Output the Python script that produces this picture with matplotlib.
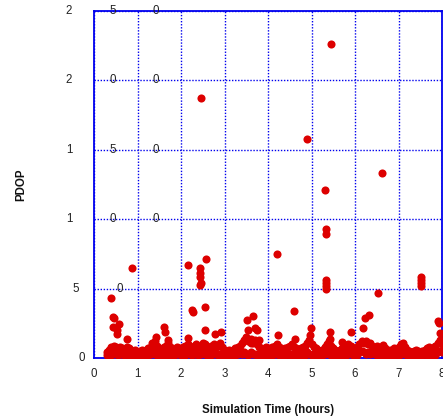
import matplotlib
matplotlib.use("Agg")
import matplotlib.pyplot as plt
from matplotlib.transforms import blended_transform_factory

# ---- data ----
# dense baseline band: time (hours) and PDOP
base_t = [0.30, 0.35, 0.40, 0.45, 0.50, 0.55, 0.60, 0.65, 0.70, 0.75,
          0.80, 0.85, 0.90, 0.95, 1.00, 1.05, 1.10, 1.15, 1.20, 1.25,
          1.30, 1.35, 1.40, 1.45, 1.50, 1.55, 1.60, 1.65, 1.70, 1.75,
          1.80, 1.85, 1.90, 1.95, 2.00, 2.05, 2.10, 2.15, 2.20, 2.25,
          2.30, 2.35, 2.40, 2.45, 2.50, 2.55, 2.60, 2.65, 2.70, 2.75,
          2.80, 2.85, 2.90, 2.95, 3.00, 3.05, 3.10, 3.15, 3.20, 3.25,
          3.30, 3.35, 3.40, 3.45, 3.50, 3.55, 3.60, 3.65, 3.70, 3.75,
          3.80, 3.85, 3.90, 3.95, 4.00, 4.05, 4.10, 4.15, 4.20, 4.25,
          4.30, 4.35, 4.40, 4.45, 4.50, 4.55, 4.60, 4.65, 4.70, 4.75,
          4.80, 4.85, 4.90, 4.95, 5.00, 5.05, 5.10, 5.15, 5.20, 5.25,
          5.30, 5.35, 5.40, 5.45, 5.50, 5.55, 5.60, 5.65, 5.70, 5.75,
          5.80, 5.85, 5.90, 5.95, 6.00, 6.05, 6.10, 6.15, 6.20, 6.25,
          6.30, 6.35, 6.40, 6.45, 6.50, 6.55, 6.60, 6.65, 6.70, 6.75,
          6.80, 6.85, 6.90, 6.95, 7.00, 7.05, 7.10, 7.15, 7.20, 7.25,
          7.30, 7.35, 7.40, 7.45, 7.50, 7.55, 7.60, 7.65, 7.70, 7.75,
          7.80, 7.85, 7.90, 7.95, 8.00]
base_upper = [4, 6, 8, 9, 8, 7, 8, 7, 6, 8,
              7, 6, 5, 6, 4, 5, 6, 5, 6, 7,
              8, 10, 12, 9, 7, 6, 8, 9, 11, 8,
              7, 6, 8, 7, 6, 8, 9, 10, 8, 7,
              9, 10, 8, 9, 11, 10, 8, 7, 9, 10,
              8, 9, 11, 8, 6, 5, 6, 5, 6, 7,
              8, 9, 11, 13, 15, 12, 14, 11, 13, 10,
              8, 7, 6, 8, 7, 6, 8, 9, 10, 8,
              7, 6, 7, 8, 9, 10, 8, 7, 6, 7,
              8, 9, 11, 13, 10, 8, 7, 6, 5, 6,
              8, 10, 12, 9, 7, 6, 5, 6, 7, 6,
              8, 10, 9, 7, 6, 8, 10, 12, 11, 12,
              10, 11, 9, 8, 9, 7, 6, 8, 7, 5,
              6, 5, 7, 6, 8, 10, 11, 8, 6, 5,
              4, 5, 6, 5, 4, 5, 6, 7, 8, 6,
              7, 9, 11, 13, 10]
base_lower = [2, 3, 2, 4, 3, 2, 3, 4, 2, 3,
              2, 3, 1, 2, 2, 3, 1, 2, 3, 2,
              3, 4, 3, 2, 3, 2, 1, 3, 4, 2,
              3, 2, 3, 4, 2, 3, 2, 4, 3, 2,
              4, 3, 2, 3, 4, 3, 2, 3, 2, 4,
              3, 2, 3, 2, 2, 1, 2, 2, 3, 2,
              3, 4, 3, 4, 3, 2, 4, 3, 3, 2,
              3, 2, 2, 3, 2, 1, 2, 3, 4, 2,
              3, 2, 2, 3, 2, 3, 2, 3, 2, 2,
              3, 2, 4, 3, 2, 3, 2, 2, 1, 2,
              3, 4, 3, 2, 3, 2, 2, 1, 2, 3,
              2, 3, 4, 2, 3, 2, 4, 5, 4, 3,
              4, 3, 4, 3, 2, 3, 2, 3, 2, 2,
              1, 2, 2, 3, 2, 3, 4, 3, 2, 2,
              1, 2, 2, 1, 2, 2, 3, 2, 3, 2,
              3, 2, 4, 5, 4]

# isolated higher points
spike_t = [5.44, 2.46, 4.90, 6.61, 5.30, 5.34, 5.34,
           4.21, 2.17, 2.57, 2.44, 2.43, 2.44, 2.45, 2.44, 0.87,
           5.33, 5.33, 5.34, 5.34, 7.52, 7.52, 7.52, 7.52,
           6.52, 6.33, 6.23, 6.19, 5.90, 7.92, 7.91, 7.95,
           4.60, 4.24, 4.99, 5.43, 5.43, 4.62, 4.97,
           2.26, 2.28, 2.55, 3.51, 3.66, 2.55, 2.78, 2.16, 3.74, 3.54, 3.70, 3.62, 3.80, 2.93,
           0.39, 0.44, 0.45, 0.57, 0.43, 0.52, 0.54, 0.77,
           1.62, 1.64, 1.43, 1.33, 1.71, 5.69, 6.64]
spike_v = [226, 187, 158, 133, 121, 93, 89,
           75, 67, 71, 65, 61, 58, 54, 52.5, 64.6,
           56, 54, 52, 50, 58, 56, 54, 52,
           47, 31, 28.6, 21.4, 18.5, 25.4, 27, 17.8,
           34, 16.5, 21.8, 19, 14, 14, 16.6,
           34.6, 33, 36.5, 27.4, 30.3, 20, 17.3, 14.4, 20, 20, 21.6, 11, 13, 18.5,
           43, 29.8, 29, 24.5, 22, 20, 17, 13.5,
           22, 19, 15.4, 11, 13, 11.8, 9.4]

xticks = [0, 1, 2, 3, 4, 5, 6, 7, 8]
yticks = [0, 50, 100, 150, 200, 250]
xlabel = "Simulation Time (hours)"
ylabel = "PDOP"

# ---- figure ----
W, H = 443, 417
fig = plt.figure(figsize=(W / 100, H / 100), dpi=100)
ax = fig.add_axes([94 / W, 1 - 358 / H, 348 / W, 347 / H])

red = "#dd0000"
ms = 34
ax.scatter(base_t, base_lower, s=ms, color=red, linewidths=0, zorder=3)
ax.scatter(base_t, base_upper, s=ms, color=red, linewidths=0, zorder=3)
ax.scatter(spike_t, spike_v, s=ms, color=red, linewidths=0, zorder=3)

ax.set_xlim(0, 8)
ax.set_ylim(0, 250)
ax.set_xticks(xticks)
ax.set_yticks(yticks)
ax.grid(True, color="#0000ee", linestyle=(0, (1, 1.2)), linewidth=1.0, zorder=1)
ax.set_axisbelow(True)
for sp in ax.spines.values():
    sp.set_color("#0000ee")
    sp.set_linewidth(1.3)

font = "Liberation Sans"
ax.tick_params(axis="both", length=0)
ax.tick_params(axis="x", pad=7, labelsize=8.3, labelcolor="#222222")
for lab in ax.get_xticklabels():
    lab.set_fontfamily(font)
ax.set_yticklabels([])

# y tick labels drawn with widely spaced characters, as in the reference
tr = blended_transform_factory(fig.transFigure, ax.transData)
start_px = {3: 69, 2: 76, 1: 82}
for v in yticks:
    s = str(v)
    x0 = start_px[len(s)]
    for i, ch in enumerate(s):
        ax.text((x0 + 43.3 * i) / W, v, ch, transform=tr, ha="center",
                va="center", fontsize=8.3, family=font, color="#222222",
                clip_on=False, zorder=5)

fig.text(268 / W, 1 - 410 / H, xlabel, ha="center", va="center",
         fontsize=8.3, fontweight="bold", family=font, color="#111111")
fig.text(21 / W, 1 - 185 / H, ylabel, ha="center", va="center", rotation=90,
         fontsize=8.3, fontweight="bold", family=font, color="#111111")

fig.savefig("out.png", dpi=100)
